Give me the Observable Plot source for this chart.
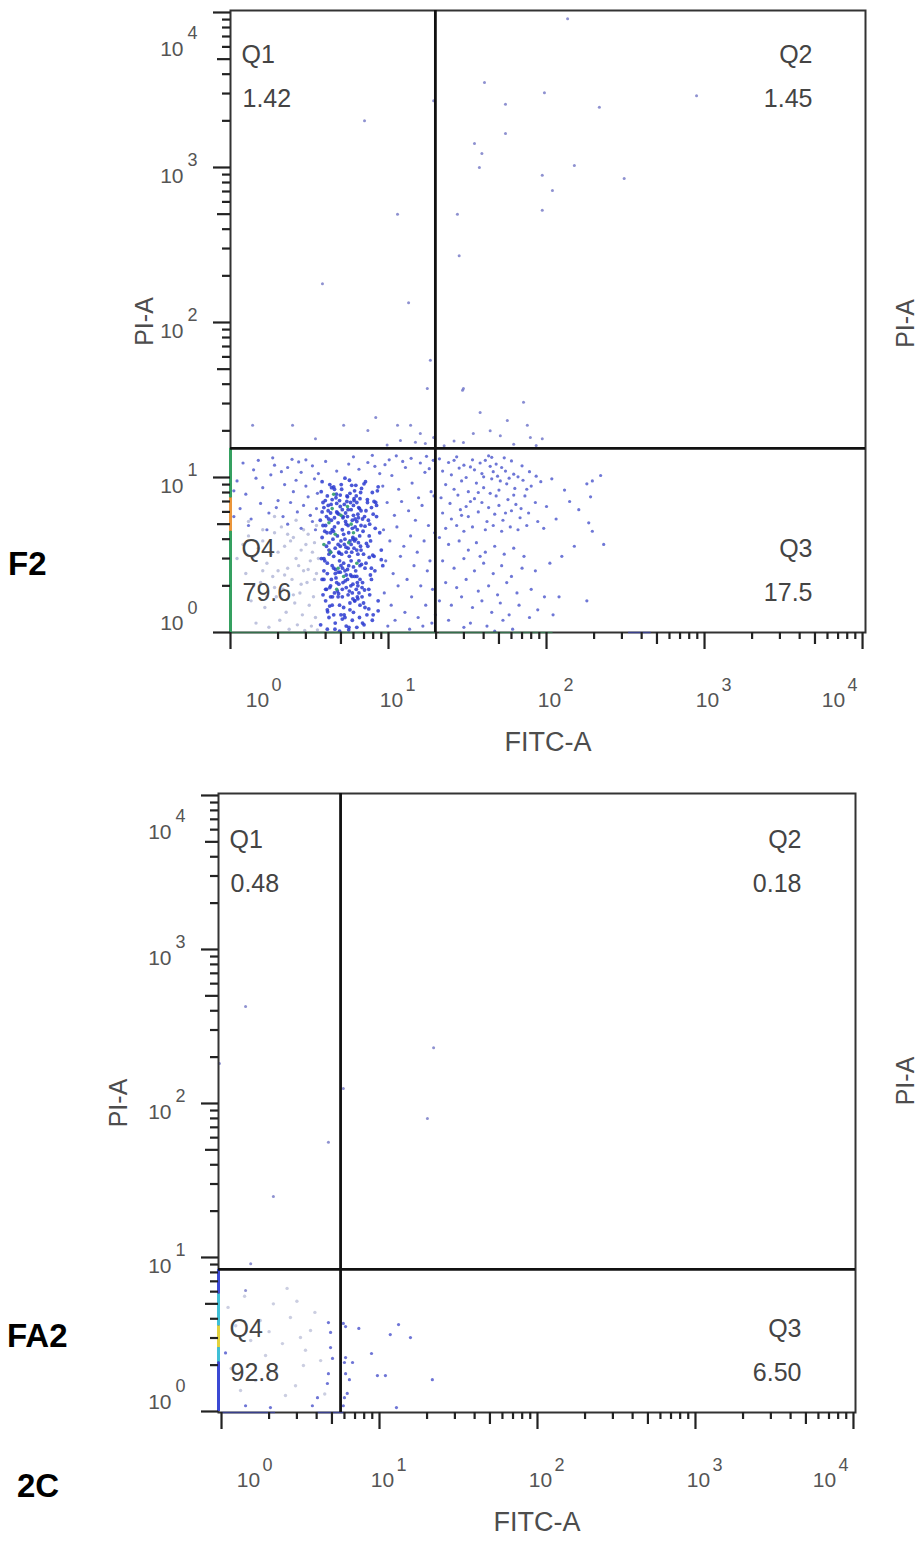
<!DOCTYPE html>
<html><head><meta charset="utf-8">
<script src="https://cdn.jsdelivr.net/npm/d3@7"></script>
<script src="https://cdn.jsdelivr.net/npm/@observablehq/plot@0.6"></script>
<style>
html,body{margin:0;padding:0;background:#fff;}
#wrap{position:relative;width:924px;height:1544px;overflow:hidden;font-family:"Liberation Sans",Arial,sans-serif;}
.panel{position:absolute;left:0;}
.tag{position:absolute;font-weight:bold;font-size:33px;line-height:33px;color:#000;white-space:nowrap;}
</style></head><body><div id="wrap"></div>
<script>
// ---------- text ----------
const panelTags = ["F2", "FA2"];
const figureTag = "2C";
const xTitle = "FITC-A";
const yTitle = "PI-A";
const quadNames = ["Q1", "Q2", "Q3", "Q4"];
const f2QuadValues = ["1.42", "1.45", "17.5", "79.6"];
const fa2QuadValues = ["0.48", "0.18", "6.50", "92.8"];

// ---------- axis ticks ----------
const decades = [1, 10, 100, 1000, 10000];
const minorMultipliers = [2, 3, 4, 6, 7, 8, 9];
const midMultipliers = [5];

// ---------- gates (FITC, PI) ----------
const f2GateFitc = 19.8, f2GatePi = 15.4;
const fa2GateFitc = 5.67, fa2GatePi = 8.36;

// ---------- events, "FITC PI" pairs ----------
const f2Dense = `3.8 9.4;4.5 8.7;5.3 9.9;6.1 8.2;7.0 9.1;4.1 7.6;4.9 7.1;5.7 7.9;6.6 7.3;7.9 8.0;
3.9 6.4;4.3 5.9;4.7 6.8;5.1 6.2;5.5 5.6;6.0 6.6;6.4 5.8;7.2 6.1;8.3 6.9;3.7 5.3;
4.0 4.9;4.4 4.6;4.8 5.1;5.2 4.3;5.9 4.7;6.3 5.2;6.9 4.5;7.6 5.0;8.8 4.4;3.8 4.1;
4.2 3.8;4.6 3.5;5.0 3.9;5.4 3.3;5.8 3.7;6.2 4.0;6.7 3.4;7.4 3.6;8.1 3.1;3.9 3.0;
4.1 2.8;4.5 2.6;4.9 2.9;5.3 2.5;5.6 2.7;6.1 2.3;6.5 2.9;7.1 2.6;7.8 2.2;9.2 2.7;
3.8 2.2;4.3 2.0;4.7 2.1;5.1 1.9;5.5 2.2;5.9 1.8;6.4 2.0;6.8 1.7;7.5 1.9;8.6 1.6;
4.0 1.6;4.4 1.5;4.8 1.7;5.2 1.45;5.7 1.55;6.0 1.35;6.6 1.5;7.3 1.3;4.2 1.25;4.6 1.15;
5.0 1.3;5.4 1.1;5.9 1.2;6.3 1.08;7.0 1.12;4.1 1.05;4.9 1.02;5.6 1.04;
3.75 8.1;4.25 9.0;4.65 7.4;5.05 8.4;5.45 7.0;5.85 8.9;6.25 7.6;6.75 8.5;7.35 7.2;8.6 8.7;
3.85 6.9;4.15 6.1;4.55 5.5;4.95 6.5;5.35 5.9;5.75 6.9;6.15 5.4;6.55 6.3;7.05 5.6;7.8 6.4;
3.95 4.5;4.35 5.3;4.75 4.2;5.15 5.5;5.55 4.9;5.95 4.1;6.35 4.6;6.85 5.4;7.55 4.2;8.4 5.6;
4.05 3.6;4.45 4.0;4.85 3.3;5.25 3.7;5.65 3.1;6.05 3.5;6.45 3.8;6.95 3.2;7.7 3.9;9.0 3.4;
3.9 2.5;4.2 3.2;4.6 2.4;5.0 2.7;5.4 2.35;5.8 2.9;6.2 2.5;6.6 2.2;7.2 2.8;8.2 2.5;
4.0 1.9;4.35 2.2;4.75 1.85;5.15 2.1;5.55 1.75;5.95 2.05;6.35 1.7;6.8 1.95;7.6 1.75;3.85 1.75;
4.1 1.4;4.5 1.3;4.9 1.5;5.3 1.25;5.7 1.4;6.1 1.6;6.55 1.25;7.1 1.45;8.0 1.3;4.3 1.7;
4.15 6.6;4.4 7.2;4.7 6.0;4.95 7.7;5.25 6.7;5.5 7.5;5.8 6.2;6.05 7.1;6.3 6.9;4.05 5.6;
4.3 4.4;4.55 4.8;4.85 5.8;5.1 4.6;5.35 5.2;5.6 4.4;5.9 5.3;6.15 4.8;6.45 5.5;6.7 4.9;
4.2 3.4;4.5 3.1;4.8 3.7;5.05 3.2;5.3 4.0;5.55 3.5;5.85 3.3;6.1 3.9;6.4 3.2;6.65 3.6;
4.1 2.4;4.4 2.7;4.65 2.25;4.95 2.45;5.2 2.8;5.5 2.55;5.75 2.35;6.0 2.65;6.3 2.3;6.6 2.7;
4.25 1.95;4.55 1.8;4.85 2.05;5.1 1.7;5.4 1.95;5.65 1.85;5.95 1.65;6.25 1.9;6.5 1.8;6.85 2.1;
3.72 1.12;3.95 2.9;4.18 5.4;4.42 1.7;4.68 7.8;4.95 3.6;5.24 1.3;5.55 6.2;5.87 2.3;6.21 8.9;6.57 4.2;6.95 1.55;7.36 6.9;7.79 2.6;8.24 4.7;
3.8 6.0;4.05 1.9;4.3 3.3;4.55 8.4;4.8 2.45;5.1 1.22;5.4 5.0;5.7 3.9;6.05 7.3;6.4 1.65;6.75 2.75;7.15 9.4;7.55 3.05;8.0 5.8;8.6 1.38;
3.76 3.0;3.98 7.1;4.24 1.48;4.48 4.5;4.75 5.9;5.02 9.0;5.32 2.15;5.62 1.08;5.96 4.0;6.3 3.4;6.66 8.0;7.05 1.88;7.46 5.3;7.9 1.2;8.4 6.6;
3.85 4.9;4.12 1.36;4.36 8.6;4.62 2.55;4.88 3.25;5.16 5.6;5.46 7.6;5.78 2.0;6.12 1.6;6.48 6.4;6.85 1.15;7.25 3.75;7.68 2.35;8.1 7.0;9.0 2.95;
3.9 2.2;4.08 4.4;4.33 6.7;4.58 1.05;4.83 1.78;5.12 2.6;5.38 3.55;5.66 9.6;6.0 5.7;6.35 2.1;6.7 6.1;7.1 4.85;7.5 1.42;7.95 3.15;8.5 8.2`;

const f2Green = `4.4 6.3;5.0 5.7;4.6 4.3;5.6 3.8;4.3 3.3;5.2 2.3;4.8 2.6;6.0 4.4;4.2 5.1;5.5 6.5;4.7 1.9;6.3 2.8;3.9 3.7;5.8 5.0;4.5 7.8`;

const f2UpperLeft = `1.1 9.5;1.25 7.8;1.4 11.2;1.6 8.6;1.8 10.4;2.0 7.1;2.2 9.0;2.5 8.1;2.8 10.8;3.1 7.5;
3.4 9.8;1.15 6.3;1.35 5.4;1.55 6.8;1.75 5.9;1.95 6.4;2.15 5.6;2.4 6.9;2.65 6.0;2.9 6.6;
3.2 5.7;3.5 6.3;1.2 12.4;1.5 12.9;1.9 12.0;2.3 11.6;2.7 12.6;3.3 11.9;2.1 10.9;2.6 9.6;
3.0 8.8;3.6 10.6;1.3 4.9;1.7 4.6;2.3 5.0;2.8 4.7;3.3 5.2;1.05 8.2;1.05 5.6;1.45 9.9;
3.55 7.9;3.45 4.6;2.45 13.1;1.85 13.4;3.0 13.0`;

const f2RightOfCore = `9.5 12.1;10.5 10.3;11.6 8.4;12.8 11.6;14.1 9.2;15.5 7.4;17.0 10.8;18.6 8.1;9.8 6.9;10.9 5.7;
12.1 7.0;13.4 6.1;14.8 5.3;16.3 6.6;17.9 4.9;19.4 7.6;9.3 4.6;10.2 3.9;11.3 4.8;12.5 3.6;
13.8 4.2;15.2 3.3;16.8 3.9;18.3 2.9;19.6 4.4;9.6 2.9;10.7 2.4;11.9 3.1;13.1 2.2;14.5 2.7;
16.0 2.0;17.6 2.5;19.0 1.9;9.4 1.8;10.4 1.5;11.5 2.0;12.7 1.35;14.0 1.7;15.4 1.25;17.2 1.5;
18.8 1.15;9.9 1.1;11.0 1.2;13.6 1.05;16.5 1.1;19.8 1.3;9.2 8.8;10.1 13.0;11.2 13.8;12.3 12.7;
13.9 13.3;15.9 12.4;17.4 13.7;19.2 12.9;18.1 11.4;8.8 10.6;8.2 11.8;7.4 12.5;6.5 11.3;5.6 12.2;
4.7 11.0;4.0 12.7;6.0 13.6;7.9 13.9`;

const f2Q3 = `21 13.2;24 12.5;27 13.6;30 12.0;34 13.0;38 12.4;43 13.8;48 12.2;54 13.4;60 12.8;
22 11.0;25 10.4;28 11.5;31 10.0;35 11.2;39 10.6;44 11.8;49 10.2;55 11.0;62 10.5;
70 11.9;78 10.9;23 9.0;26 8.4;29 9.5;32 8.1;36 9.2;40 8.6;45 9.8;50 8.3;
56 9.1;63 8.5;71 9.6;80 8.8;92 9.4;21.5 7.4;24.5 6.8;27.5 7.7;31 6.5;35 7.3;
39 6.9;44 7.9;50 6.6;57 7.2;64 6.7;73 7.6;85 6.9;22 5.9;25 5.4;28.5 6.2;
32 5.6;37 6.0;42 5.2;47 5.8;53 5.3;60 6.1;68 5.5;77 5.9;88 5.2;23 4.7;
27 4.9;30 4.5;34 4.8;41 4.6;46 4.9;52 4.5;59 4.8;66 4.6;75 4.9;96 4.7;
26 12.9;33 11.7;41 12.9;46 10.9;52 11.6;58 9.9;66 10.1;75 8.4;86 10.2;37 8.0;
43 6.4;48 7.6;55 5.9;62 7.7;69 6.3;33 7.0;29 5.7;40 10.1;51 9.5;45 13.5;
21 4.1;24 3.7;28 3.9;32 3.4;36 3.8;41 3.3;47 3.6;54 3.2;62 3.5;72 3.1;
22 2.9;26 2.6;30 3.0;35 2.5;40 2.8;46 2.4;52 2.7;60 2.3;70 2.6;85 2.5;
23 2.1;27 1.95;31 2.2;37 1.85;43 2.0;49 1.75;56 2.1;65 1.8;80 1.9;21 1.6;
25 1.5;29 1.7;34 1.45;39 1.6;45 1.35;51 1.55;58 1.3;67 1.5;78 1.25;24 1.2;
33 1.15;42 1.1;53 1.2;61 1.05;47 1.02;30 1.08;88 1.4;97 1.7;110 1.3;38 3.1;
220 10.3;195 9.5;180 9.1;190 7.5;160 6.2;185 5.1;195 4.5;230 3.7;150 3.6;120 1.7;
180 1.6;130 8.3;115 5.4;140 7.0;105 2.8;100 6.5;108 9.8;125 3.1`;

const f2AboveGate = `1.38 21.7;2.47 21.7;5.2 21.7;3.45 17.8;7.4 20.1;8.3 24.4;11.4 21.7;13.8 21.7;17.6 37.5;15.9 19.2;
11.9 17.3;17.1 16.6;29.8 37.5;71.5 30.6;38 26.3;56.5 23.3;75.6 21.7;44 20;51 18.6;34.4 19.2;
79 18.1;94 17.8;29.8 16.8;19.3 18.1;29.4 36.5;18.4 57;9.8 16.2;14.8 16.9;22.5 16.0;26 17.2;62 16.4;86 16.1`;

const f2Faint = `1.3 4.2;1.6 3.9;1.9 4.4;2.2 3.6;2.5 4.1;2.8 3.4;3.1 4.3;3.4 3.8;1.4 3.1;1.7 2.8;
2.0 3.3;2.3 2.6;2.6 3.0;2.9 2.5;3.2 2.9;3.5 2.4;1.25 2.4;1.55 2.1;1.85 2.3;2.15 1.9;
2.45 2.2;2.75 1.8;3.05 2.1;3.35 1.7;1.35 1.6;1.65 1.45;1.95 1.7;2.25 1.35;2.55 1.55;2.85 1.3;
3.15 1.5;3.45 1.25;1.45 1.15;1.75 1.08;2.05 1.2;2.35 1.05;2.65 1.12;2.95 1.03;3.25 1.1;3.55 1.04;
1.5 3.5;1.8 3.2;2.1 4.8;2.4 3.9;2.7 2.7;3.0 3.7;3.3 3.3;3.6 3.0;1.2 3.7;2.9 4.6;
1.6 2.5;1.9 1.95;2.2 2.35;2.5 1.75;2.8 2.05;3.1 2.55;3.4 2.2;1.4 2.0;1.7 1.7;2.0 2.5;
1.3 5.2;1.9 5.6;2.6 5.3;3.2 5.7;1.6 4.6;2.3 4.3;3.5 4.9;1.1 3.0`;

const f2Outliers = `7.05 2000;11.4 500;3.82 178;13.4 134;19.3 2700;136 9100;40.5 3540;55 2560;97 3030;216 2450;
890 2900;55 1660;35 1430;39 1230;37.6 1000;94 890;109 710;150 1030;310 850;94 530;27.3 500;28 270`;

const fa2Blue = `1.06 2.4;4.75 3.78;4.9 3.26;4.9 2.6;5.04 2.21;4.75 1.76;4.68 1.52;4.05 1.23;3.76 1.09;1.42 1.09;2.04 1.06;
5.9 3.73;6.1 2.24;6.1 1.76;6.25 1.31;5.9 1.09;
13.2 3.67;11.7 3.16;15.7 3.02;7.4 3.46;6.1 3.56;8.9 2.38;6.75 2.08;6.0 2.08;9.7 1.71;10.9 1.71;6.45 1.61;21.6 1.61;12.8 1.06;6.0 1.23`;

const fa2Faint = `1.1 4.74;2.13 5.0;2.73 4.08;2.43 2.76;3.16 3.02;3.3 1.99;1.32 1.37;1.64 1.59;1.9 2.31;2.54 1.27;
3.66 3.36;1.76 3.9;2.94 1.47;1.53 2.89;4.24 2.14;1.23 3.6;2.2 1.85;3.9 4.4;2.6 6.3;1.4 5.6;
3.4 2.5;4.5 1.3;1.15 1.9;2.0 3.3;3.0 5.2`;

const fa2Outliers = `1.42 427;5.9 125;4.75 56;2.13 24.9;20.1 80;22 230;1.53 9.1;1.42 6.1;0.97 182`;

// ---------- events piled on the axis edges: [from, to, density level] ----------
const f2LeftEdge = [[1, 4.5, 3], [4.5, 7.4, 5], [7.4, 15.4, 3]];
const f2BottomEdge = [[1, 19.8, 3], [21, 110, 3], [330, 460, 1]];
const fa2LeftEdge = [[1, 2.1, 1], [2.1, 2.6, 2], [2.6, 3.6, 4], [3.6, 5.8, 2], [5.8, 8.36, 1]];
const fa2BottomEdge = [[1, 2.2, 1], [4.0, 6.0, 1]];

// ---------- rendering ----------
const levelColors = {1: "#3b49d4", 2: "#3fbfd6", 3: "#35a060", 4: "#e2d23c", 5: "#ea953a"};
const FONT = "'Liberation Sans', Arial, sans-serif";
const parse = s => s.split(";").map(t => t.trim()).filter(Boolean).map(t => {
  const [x, y] = t.split(/\s+/).map(Number); return {x, y};
});

function panel(o) {
  const minor = decades.slice(0, 4).flatMap(d => minorMultipliers.map(m => d * m));
  const mid = decades.slice(0, 4).flatMap(d => midMultipliers.map(m => d * m));
  const tickStyle = {stroke: "#222", strokeWidth: 2.2, tickFormat: () => "", label: null};
  const lab = {fontFamily: FONT, fill: "#555", lineAnchor: "bottom"};
  const exp = d => String(Math.round(Math.log10(d)));
  const q = {fontFamily: FONT, fontSize: 25, fill: "#444", lineAnchor: "bottom"};
  const corners = [
    {a: "top-left", t: "start", dx: 11, dy: o.qTop},
    {a: "top-right", t: "end", dx: o.qRight, dy: o.qTop},
    {a: "bottom-right", t: "end", dx: o.qRight, dy: -76},
    {a: "bottom-left", t: "start", dx: 11, dy: -76}
  ];
  const marks = [];
  for (const g of o.groups) {
    marks.push(Plot.dot(parse(g.data), {x: "x", y: "y", r: g.r, fill: g.fill, fillOpacity: g.op, stroke: "none"}));
  }
  marks.push(Plot.frame({stroke: "#333", strokeWidth: 2}));
  marks.push(Plot.ruleX(o.leftEdge, {x: () => o.xDomain[0], y1: d => d[0], y2: d => d[1], stroke: d => levelColors[d[2]], strokeWidth: 3}));
  marks.push(Plot.ruleY(o.bottomEdge, {y: () => o.yDomain[0], x1: d => d[0], x2: d => d[1], stroke: d => levelColors[d[2]], strokeWidth: 1.5, strokeOpacity: 0.55}));
  marks.push(Plot.ruleX([o.gateX], {stroke: "#111", strokeWidth: 2.8}));
  marks.push(Plot.ruleY([o.gateY], {stroke: "#111", strokeWidth: 2.8}));
  // ticks
  marks.push(Plot.axisY({anchor: "left", ticks: decades, tickSize: 17, ...tickStyle}));
  marks.push(Plot.axisY({anchor: "left", ticks: mid, tickSize: 13, ...tickStyle}));
  marks.push(Plot.axisY({anchor: "left", ticks: minor, tickSize: 8, ...tickStyle}));
  marks.push(Plot.axisX({anchor: "bottom", ticks: decades, tickSize: 17, ...tickStyle}));
  marks.push(Plot.axisX({anchor: "bottom", ticks: mid, tickSize: 12, ...tickStyle}));
  marks.push(Plot.axisX({anchor: "bottom", ticks: minor, tickSize: 7, ...tickStyle}));
  // tick labels 10^k (edge labels are pulled inward, as in the original)
  const yShift = d => d === 10000 ? 28 : d === 1 ? -18 : 0;
  const xShift = d => d === 1 ? 27 : d === 10000 ? -29 : 3;
  for (const d of decades) {
    marks.push(Plot.text([d], {y: v => v, frameAnchor: "left", text: () => "10", textAnchor: "end", dx: -47, dy: 15.5 + yShift(d), ...lab, fontSize: 21}));
    marks.push(Plot.text([d], {y: v => v, frameAnchor: "left", text: exp, textAnchor: "start", dx: -43, dy: -1 + yShift(d), ...lab, fontSize: 18}));
    marks.push(Plot.text([d], {x: v => v, frameAnchor: "bottom", text: () => "10", textAnchor: "middle", dx: xShift(d), dy: 74, ...lab, fontSize: 21}));
    marks.push(Plot.text([d], {x: v => v, frameAnchor: "bottom", text: exp, textAnchor: "start", dx: xShift(d) + 14, dy: 58, ...lab, fontSize: 18}));
  }
  // titles
  marks.push(Plot.text([o.xTitle], {frameAnchor: "bottom", text: d => d, textAnchor: "middle", dy: 118, fontFamily: FONT, fontSize: 27, fill: "#4d4d4d"}));
  marks.push(Plot.text([o.yTitle], {frameAnchor: "left", text: d => d, textAnchor: "middle", lineAnchor: "middle", dx: o.yTitleDx, rotate: -90, fontFamily: FONT, fontSize: 25, fill: "#4d4d4d"}));
  marks.push(Plot.text([o.yTitle], {frameAnchor: "right", text: d => d, textAnchor: "middle", lineAnchor: "middle", dx: o.rightTitleDx, dy: o.rightTitleDy, rotate: -90, fontFamily: FONT, fontSize: 25, fill: "#4d4d4d"}));
  // quadrant labels
  corners.forEach((c, i) => {
    marks.push(Plot.text([o.names[i]], {frameAnchor: c.a, text: d => d, textAnchor: c.t, dx: c.dx, dy: c.dy, ...q}));
    marks.push(Plot.text([o.values[i]], {frameAnchor: c.a, text: d => d, textAnchor: c.t, dx: c.dx + (c.t === "start" ? 1 : 0), dy: c.dy + 44, ...q}));
  });
  return Plot.plot({
    width: 924, height: o.height,
    marginLeft: o.mL, marginRight: o.mR, marginTop: o.mT, marginBottom: o.mB,
    x: {type: "log", domain: o.xDomain},
    y: {type: "log", domain: o.yDomain},
    color: {type: "identity"},
    style: {background: "transparent", overflow: "visible"},
    marks
  });
}

const wrap = document.getElementById("wrap");

const p1 = panel({
  height: 775, mL: 230, mR: 59, mT: 10, mB: 143,
  xDomain: [1, 10440], yDomain: [1, 10300],
  gateX: f2GateFitc, gateY: f2GatePi,
  groups: [
    {data: f2Faint, r: 1.7, fill: "#b4b9d8", op: 0.85},
    {data: f2UpperLeft, r: 1.6, fill: "#4a55cc", op: 0.8},
    {data: f2RightOfCore, r: 1.6, fill: "#4a55cc", op: 0.8},
    {data: f2Q3, r: 1.6, fill: "#4a55cc", op: 0.8},
    {data: f2AboveGate, r: 1.5, fill: "#6a70c8", op: 0.8},
    {data: f2Dense, r: 1.9, fill: "#2c3bd0", op: 0.85},
    {data: f2Green, r: 1.8, fill: "#2f9a70", op: 0.9},
    {data: f2Outliers, r: 1.5, fill: "#7a7ec8", op: 0.85}
  ],
  leftEdge: f2LeftEdge, bottomEdge: f2BottomEdge,
  names: quadNames, values: f2QuadValues, qTop: 52, qRight: -53,
  xTitle, yTitle, yTitleDx: -86, rightTitleDx: 40, rightTitleDy: 2
});
p1.classList.add("panel"); p1.style.top = "0px";
wrap.appendChild(p1);

const p2 = panel({
  height: 769, mL: 218, mR: 69, mT: 18, mB: 132,
  xDomain: [0.957, 10300], yDomain: [0.985, 10300],
  gateX: fa2GateFitc, gateY: fa2GatePi,
  groups: [
    {data: fa2Faint, r: 1.7, fill: "#c2c6dc", op: 0.85},
    {data: fa2Blue, r: 1.6, fill: "#4a52cc", op: 0.8},
    {data: fa2Outliers, r: 1.5, fill: "#7a7ec8", op: 0.85}
  ],
  leftEdge: fa2LeftEdge, bottomEdge: fa2BottomEdge,
  names: quadNames, values: fa2QuadValues, qTop: 54, qRight: -54,
  xTitle, yTitle, yTitleDx: -100, rightTitleDx: 50, rightTitleDy: -22
});
p2.classList.add("panel"); p2.style.top = "775px";
wrap.appendChild(p2);

const tags = [[panelTags[0], 8, 547], [panelTags[1], 7, 1319], [figureTag, 17, 1469]];
for (const [t, left, top] of tags) {
  const d = document.createElement("div");
  d.className = "tag"; d.textContent = t;
  d.style.left = left + "px"; d.style.top = top + "px";
  wrap.appendChild(d);
}
</script></body></html>
